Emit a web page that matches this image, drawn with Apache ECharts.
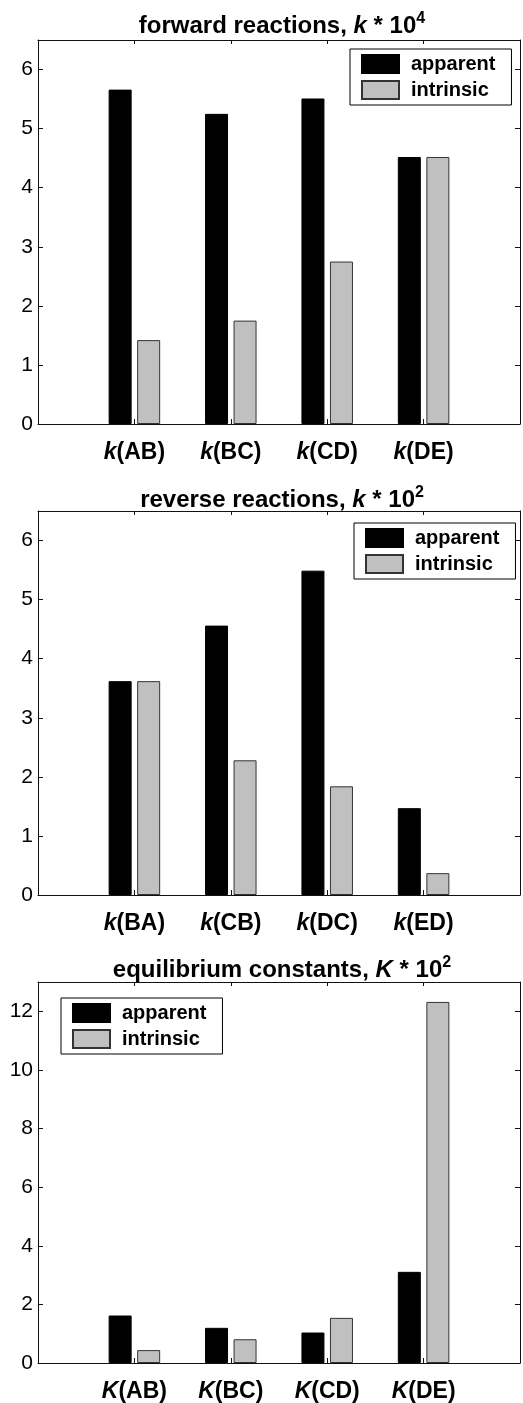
<!DOCTYPE html>
<html>
<head>
<meta charset="utf-8">
<script src="https://cdn.jsdelivr.net/npm/echarts/dist/echarts.min.js"></script>
<style>
html,body{margin:0;padding:0;background:#fff;}
#c{width:523px;height:1403px;}
</style>
</head>
<body>
<div id="c"></div>
<script>
// ---- data ----
const seriesNames = ['apparent', 'intrinsic'];

const forwardCats = ['k(AB)', 'k(BC)', 'k(CD)', 'k(DE)'];
const forwardApparent = [5.66, 5.25, 5.51, 4.52];
const forwardIntrinsic = [1.42, 1.75, 2.75, 4.52];

const reverseCats = ['k(BA)', 'k(CB)', 'k(DC)', 'k(ED)'];
const reverseApparent = [3.62, 4.56, 5.49, 1.47];
const reverseIntrinsic = [3.62, 2.28, 1.84, 0.37];

const equilCats = ['K(AB)', 'K(BC)', 'K(CD)', 'K(DE)'];
const equilApparent = [1.62, 1.20, 1.04, 3.11];
const equilIntrinsic = [0.44, 0.81, 1.54, 12.32];

const titleParts = [
  ['forward reactions, ', 'k', ' * 10', '4'],
  ['reverse reactions, ', 'k', ' * 10', '2'],
  ['equilibrium constants, ', 'K', ' * 10', '2']
];

const yMax = [6.5, 6.5, 13];
const yInterval = [1, 1, 2];

// ---- layout ----
const FONT = '"Liberation Sans", Arial, Helvetica, sans-serif';
const gridTops = [40, 511, 982];
const gridH = 384;
const gridLeft = 38;
const gridW = 488;
const titleTops = [6, 480, 950];
const legendPos = [{left: 350, top: 49}, {left: 354, top: 523}, {left: 61, top: 998}];
const AXC = '#111';

const panels = [
  {cats: forwardCats, a: forwardApparent, b: forwardIntrinsic},
  {cats: reverseCats, a: reverseApparent, b: reverseIntrinsic},
  {cats: equilCats, a: equilApparent, b: equilIntrinsic}
];

const grid = [], xAxis = [], yAxis = [], series = [], title = [], legend = [];

panels.forEach((p, k) => {
  grid.push({left: gridLeft, width: gridW, top: gridTops[k], height: gridH, containLabel: false});
  const cats = p.cats;
  const xFmt = function (v) {
    const r = Math.round(v);
    if (Math.abs(v - r) > 1e-6) return '';
    const i = r - 1;
    if (i < 0 || i >= cats.length) return '';
    const c = cats[i];
    return '{i|' + c.charAt(0) + '}{b|' + c.slice(1) + '}';
  };
  xAxis.push({
    type: 'value', gridIndex: k, min: 0, max: cats.length + 1, interval: 1,
    position: 'bottom',
    splitLine: {show: false},
    axisLine: {show: true, onZero: false, lineStyle: {color: AXC, width: 1}},
    axisTick: {show: true, inside: true, length: 5, lineStyle: {color: AXC}},
    axisLabel: {
      show: true, margin: 17, formatter: xFmt, color: '#000',
      rich: {
        i: {fontFamily: FONT, fontSize: 23, fontWeight: 'bold', fontStyle: 'italic', color: '#000'},
        b: {fontFamily: FONT, fontSize: 23, fontWeight: 'bold', color: '#000'}
      }
    }
  });
  xAxis.push({
    type: 'value', gridIndex: k, min: 0, max: cats.length + 1, interval: 1,
    position: 'top',
    splitLine: {show: false},
    axisLine: {show: true, onZero: false, lineStyle: {color: AXC, width: 1}},
    axisTick: {show: true, inside: true, length: 4, lineStyle: {color: AXC}},
    axisLabel: {show: false}
  });
  const iv = yInterval[k];
  const yFmt = function (v) {
    const q = v / iv;
    return Math.abs(q - Math.round(q)) < 1e-6 ? String(v) : '';
  };
  yAxis.push({
    type: 'value', gridIndex: k, min: 0, max: yMax[k], interval: iv,
    position: 'left',
    splitLine: {show: false},
    axisLine: {show: true, onZero: false, lineStyle: {color: AXC, width: 1}},
    axisTick: {show: true, inside: true, length: 5, lineStyle: {color: AXC}},
    axisLabel: {show: true, margin: 5, formatter: yFmt, color: '#000', fontFamily: FONT, fontSize: 21}
  });
  yAxis.push({
    type: 'value', gridIndex: k, min: 0, max: yMax[k], interval: iv,
    position: 'right',
    splitLine: {show: false},
    axisLine: {show: true, onZero: false, lineStyle: {color: AXC, width: 1}},
    axisTick: {show: true, inside: true, length: 5, lineStyle: {color: AXC}},
    axisLabel: {show: false}
  });

  const xi = k * 2, yi = k * 2;
  series.push({
    name: seriesNames[0], type: 'bar', xAxisIndex: xi, yAxisIndex: yi,
    barWidth: 23, barGap: '24%',
    itemStyle: {color: '#000', borderColor: '#000', borderWidth: 1},
    emphasis: {disabled: true},
    data: p.a.map((v, i) => [i + 1, v])
  });
  series.push({
    name: seriesNames[1], type: 'bar', xAxisIndex: xi, yAxisIndex: yi,
    barWidth: 23, barGap: '24%',
    itemStyle: {color: '#c0c0c0', borderColor: '#333', borderWidth: 1},
    emphasis: {disabled: true},
    data: p.b.map((v, i) => [i + 1, v])
  });

  const t = titleParts[k];
  title.push({
    text: '{n|' + t[0] + '}{i|' + t[1] + '}{n|' + t[2] + '}{s|' + t[3] + '}',
    left: gridLeft + gridW / 2 - 5, top: titleTops[k], textAlign: 'center',
    textStyle: {
      rich: {
        n: {fontFamily: FONT, fontSize: 24, fontWeight: 'bold', color: '#000', lineHeight: 27, verticalAlign: 'bottom'},
        i: {fontFamily: FONT, fontSize: 24, fontWeight: 'bold', fontStyle: 'italic', color: '#000', lineHeight: 27, verticalAlign: 'bottom'},
        s: {fontFamily: FONT, fontSize: 16, fontWeight: 'bold', color: '#000', lineHeight: 27, verticalAlign: 'top'}
      }
    }
  });

  legend.push({
    data: seriesNames.slice(),
    left: legendPos[k].left, top: legendPos[k].top,
    orient: 'vertical',
    itemWidth: 37, itemHeight: 18, itemGap: 6,
    padding: [5, 16, 5, 11],
    borderColor: '#000', borderWidth: 1, backgroundColor: '#fff',
    selectedMode: false,
    icon: 'rect',
    textStyle: {fontFamily: FONT, fontSize: 20, fontWeight: 'bold', color: '#000', padding: [0, 0, 0, 7]}
  });
});

const chart = echarts.init(document.getElementById('c'), null, {renderer: 'canvas'});
chart.setOption({
  animation: false,
  backgroundColor: '#fff',
  title, legend, grid, xAxis, yAxis, series,
  tooltip: {show: false}
});
</script>
</body>
</html>
